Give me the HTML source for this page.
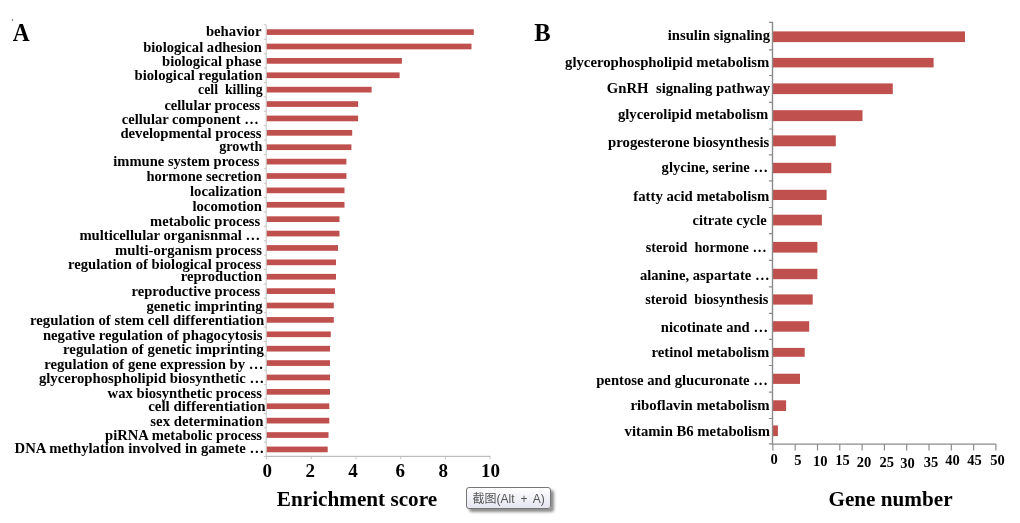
<!DOCTYPE html>
<html><head><meta charset="utf-8"><title>Figure</title>
<style>
html,body{margin:0;padding:0;background:#fff;}
body{width:1020px;height:523px;overflow:hidden;position:relative;}
svg{position:absolute;left:0;top:0;}
text{font-family:"Liberation Serif","Noto Serif CJK SC",serif;font-weight:bold;fill:#000;}
.la{font-size:15px;}
.lb{font-size:14.5px;}
.tip{position:absolute;left:466px;top:487px;width:85px;height:22px;box-sizing:border-box;border:1px solid #767676;border-radius:3px;background:linear-gradient(#ffffff,#e4e5f0);box-shadow:3px 3px 3px rgba(0,0,0,.45);font-family:"Liberation Sans","Noto Sans CJK SC",sans-serif;font-size:12px;line-height:22.6px;color:#555;text-align:left;padding-left:5.5px;word-spacing:2.6px;white-space:nowrap;}
</style></head><body>
<svg width="1020" height="523" viewBox="0 0 1020 523">

<g fill="#c0504d">
<rect x="266.6" y="29.25" width="207.2" height="5.7"/>
<rect x="266.6" y="43.64" width="204.9" height="5.7"/>
<rect x="266.6" y="58.03" width="135.3" height="5.7"/>
<rect x="266.6" y="72.42" width="133.0" height="5.7"/>
<rect x="266.6" y="86.81" width="105.0" height="5.7"/>
<rect x="266.6" y="101.20" width="91.5" height="5.7"/>
<rect x="266.6" y="115.59" width="91.5" height="5.7"/>
<rect x="266.6" y="129.98" width="85.6" height="5.7"/>
<rect x="266.6" y="144.37" width="84.8" height="5.7"/>
<rect x="266.6" y="158.76" width="79.8" height="5.7"/>
<rect x="266.6" y="173.15" width="79.8" height="5.7"/>
<rect x="266.6" y="187.54" width="77.9" height="5.7"/>
<rect x="266.6" y="201.93" width="77.9" height="5.7"/>
<rect x="266.6" y="216.32" width="72.9" height="5.7"/>
<rect x="266.6" y="230.71" width="72.9" height="5.7"/>
<rect x="266.6" y="245.10" width="71.4" height="5.7"/>
<rect x="266.6" y="259.49" width="69.4" height="5.7"/>
<rect x="266.6" y="273.88" width="69.4" height="5.7"/>
<rect x="266.6" y="288.27" width="68.4" height="5.7"/>
<rect x="266.6" y="302.66" width="67.2" height="5.7"/>
<rect x="266.6" y="317.05" width="67.2" height="5.7"/>
<rect x="266.6" y="331.44" width="64.2" height="5.7"/>
<rect x="266.6" y="345.83" width="63.4" height="5.7"/>
<rect x="266.6" y="360.22" width="63.4" height="5.7"/>
<rect x="266.6" y="374.61" width="63.4" height="5.7"/>
<rect x="266.6" y="389.00" width="63.4" height="5.7"/>
<rect x="266.6" y="403.39" width="62.7" height="5.7"/>
<rect x="266.6" y="417.78" width="62.7" height="5.7"/>
<rect x="266.6" y="432.17" width="61.9" height="5.7"/>
<rect x="266.6" y="446.56" width="61.1" height="5.7"/>
</g>
<path d="M266.20000000000005 24.5V456.3" fill="none" stroke="#bdbdbd" stroke-width="0.9"/><path d="M265.8 456.3H490.3" fill="none" stroke="#adadad" stroke-width="1"/>
<path d="M263.8 24.90H266.20000000000005 M263.8 39.29H266.20000000000005 M263.8 53.68H266.20000000000005 M263.8 68.07H266.20000000000005 M263.8 82.46H266.20000000000005 M263.8 96.85H266.20000000000005 M263.8 111.24H266.20000000000005 M263.8 125.63H266.20000000000005 M263.8 140.02H266.20000000000005 M263.8 154.41H266.20000000000005 M263.8 168.80H266.20000000000005 M263.8 183.19H266.20000000000005 M263.8 197.58H266.20000000000005 M263.8 211.97H266.20000000000005 M263.8 226.36H266.20000000000005 M263.8 240.75H266.20000000000005 M263.8 255.14H266.20000000000005 M263.8 269.53H266.20000000000005 M263.8 283.92H266.20000000000005 M263.8 298.31H266.20000000000005 M263.8 312.70H266.20000000000005 M263.8 327.09H266.20000000000005 M263.8 341.48H266.20000000000005 M263.8 355.87H266.20000000000005 M263.8 370.26H266.20000000000005 M263.8 384.65H266.20000000000005 M263.8 399.04H266.20000000000005 M263.8 413.43H266.20000000000005 M263.8 427.82H266.20000000000005 M263.8 442.21H266.20000000000005 M263.8 456.60H266.20000000000005 M266.60 456.3V459.3 M311.30 456.3V459.3 M356.00 456.3V459.3 M400.70 456.3V459.3 M445.40 456.3V459.3 M490.10 456.3V459.3" fill="none" stroke="#c0c0c0" stroke-width="0.9"/>
<text class="la" x="205.9" y="36.2" textLength="55.6" lengthAdjust="spacingAndGlyphs" xml:space="preserve">behavior</text>
<text class="la" x="143.2" y="51.5" textLength="118.8" lengthAdjust="spacingAndGlyphs" xml:space="preserve">biological adhesion</text>
<text class="la" x="162.0" y="66.1" textLength="99.5" lengthAdjust="spacingAndGlyphs" xml:space="preserve">biological phase</text>
<text class="la" x="134.5" y="80.4" textLength="128.1" lengthAdjust="spacingAndGlyphs" xml:space="preserve">biological regulation</text>
<text class="la" x="198.0" y="94.4" textLength="64.6" lengthAdjust="spacingAndGlyphs" xml:space="preserve">cell  killing</text>
<text class="la" x="164.4" y="109.8" textLength="95.8" lengthAdjust="spacingAndGlyphs" xml:space="preserve">cellular process</text>
<text class="la" x="121.8" y="124.0" textLength="137.1" lengthAdjust="spacingAndGlyphs" xml:space="preserve">cellular component …</text>
<text class="la" x="120.4" y="138.3" textLength="141.1" lengthAdjust="spacingAndGlyphs" xml:space="preserve">developmental process</text>
<text class="la" x="219.2" y="151.4" textLength="43.1" lengthAdjust="spacingAndGlyphs" xml:space="preserve">growth</text>
<text class="la" x="113.3" y="166.2" textLength="146.1" lengthAdjust="spacingAndGlyphs" xml:space="preserve">immune system process</text>
<text class="la" x="146.4" y="180.5" textLength="115.1" lengthAdjust="spacingAndGlyphs" xml:space="preserve">hormone secretion</text>
<text class="la" x="190.0" y="196.1" textLength="72.0" lengthAdjust="spacingAndGlyphs" xml:space="preserve">localization</text>
<text class="la" x="192.4" y="211.2" textLength="69.6" lengthAdjust="spacingAndGlyphs" xml:space="preserve">locomotion</text>
<text class="la" x="150.1" y="225.5" textLength="110.1" lengthAdjust="spacingAndGlyphs" xml:space="preserve">metabolic process</text>
<text class="la" x="79.4" y="239.6" textLength="180.8" lengthAdjust="spacingAndGlyphs" xml:space="preserve">multicellular organisnmal …</text>
<text class="la" x="115.1" y="254.6" textLength="146.9" lengthAdjust="spacingAndGlyphs" xml:space="preserve">multi-organism process</text>
<text class="la" x="68.0" y="268.7" textLength="193.5" lengthAdjust="spacingAndGlyphs" xml:space="preserve">regulation of biological process</text>
<text class="la" x="180.8" y="281.2" textLength="81.2" lengthAdjust="spacingAndGlyphs" xml:space="preserve">reproduction</text>
<text class="la" x="131.6" y="296.3" textLength="128.6" lengthAdjust="spacingAndGlyphs" xml:space="preserve">reproductive process</text>
<text class="la" x="146.4" y="310.8" textLength="116.2" lengthAdjust="spacingAndGlyphs" xml:space="preserve">genetic imprinting</text>
<text class="la" x="29.9" y="325.1" textLength="234.3" lengthAdjust="spacingAndGlyphs" xml:space="preserve">regulation of stem cell differentiation</text>
<text class="la" x="42.9" y="339.9" textLength="219.7" lengthAdjust="spacingAndGlyphs" xml:space="preserve">negative regulation of phagocytosis</text>
<text class="la" x="63.0" y="354.0" textLength="200.9" lengthAdjust="spacingAndGlyphs" xml:space="preserve">regulation of genetic imprinting</text>
<text class="la" x="44.2" y="368.5" textLength="219.2" lengthAdjust="spacingAndGlyphs" xml:space="preserve">regulation of gene expression by …</text>
<text class="la" x="38.9" y="383.3" textLength="225.3" lengthAdjust="spacingAndGlyphs" xml:space="preserve">glycerophospholipid biosynthetic …</text>
<text class="la" x="107.6" y="398.3" textLength="154.4" lengthAdjust="spacingAndGlyphs" xml:space="preserve">wax biosynthetic process</text>
<text class="la" x="148.2" y="411.0" textLength="117.3" lengthAdjust="spacingAndGlyphs" xml:space="preserve">cell differentiation</text>
<text class="la" x="150.3" y="425.8" textLength="113.1" lengthAdjust="spacingAndGlyphs" xml:space="preserve">sex determination</text>
<text class="la" x="105.1" y="439.9" textLength="156.9" lengthAdjust="spacingAndGlyphs" xml:space="preserve">piRNA metabolic process</text>
<text class="la" x="14.6" y="453.1" textLength="249.6" lengthAdjust="spacingAndGlyphs" xml:space="preserve">DNA methylation involved in gamete …</text>
<text x="267.2" y="476.8" text-anchor="middle" font-size="18" textLength="9.5" lengthAdjust="spacingAndGlyphs">0</text>
<text x="310.3" y="476.8" text-anchor="middle" font-size="18" textLength="9.5" lengthAdjust="spacingAndGlyphs">2</text>
<text x="353.0" y="476.8" text-anchor="middle" font-size="18" textLength="9.5" lengthAdjust="spacingAndGlyphs">4</text>
<text x="400.3" y="476.8" text-anchor="middle" font-size="18" textLength="9.5" lengthAdjust="spacingAndGlyphs">6</text>
<text x="443.3" y="476.8" text-anchor="middle" font-size="18" textLength="9.5" lengthAdjust="spacingAndGlyphs">8</text>
<text x="490.6" y="476.8" text-anchor="middle" font-size="18" textLength="19.0" lengthAdjust="spacingAndGlyphs">10</text>
<text x="357" y="506" text-anchor="middle" font-size="21.2">Enrichment score</text>
<text x="12.7" y="41" font-size="25.2" textLength="16.9" lengthAdjust="spacingAndGlyphs">A</text><circle cx="12.4" cy="20" r="0.8" fill="#555"/>
<g fill="#c0504d">
<rect x="772.9" y="31.4" width="192.1" height="10.7"/>
<rect x="772.9" y="57.9" width="160.7" height="9.5"/>
<rect x="772.9" y="83.4" width="119.9" height="10.7"/>
<rect x="772.9" y="110.2" width="89.6" height="10.9"/>
<rect x="772.9" y="135.4" width="62.9" height="10.9"/>
<rect x="772.9" y="162.8" width="58.4" height="10.4"/>
<rect x="772.9" y="189.8" width="53.7" height="10.2"/>
<rect x="772.9" y="214.7" width="49.0" height="10.7"/>
<rect x="772.9" y="241.9" width="44.5" height="10.7"/>
<rect x="772.9" y="268.8" width="44.5" height="10.4"/>
<rect x="772.9" y="294.4" width="39.8" height="10.2"/>
<rect x="772.9" y="321.2" width="36.3" height="10.5"/>
<rect x="772.9" y="347.9" width="31.8" height="8.9"/>
<rect x="772.9" y="373.7" width="27.1" height="10.2"/>
<rect x="772.9" y="400.3" width="13.2" height="10.7"/>
<rect x="772.9" y="425.4" width="5.0" height="10.7"/>
</g>
<path d="M772.5 21.8V444.1H996" fill="none" stroke="#8c8c8c" stroke-width="1.4"/>
<path d="M768.9 22.30H772.5 M768.9 49.80H772.5 M768.9 75.50H772.5 M768.9 102.30H772.5 M768.9 129.00H772.5 M768.9 154.80H772.5 M768.9 180.90H772.5 M768.9 207.50H772.5 M768.9 233.60H772.5 M768.9 260.30H772.5 M768.9 286.90H772.5 M768.9 313.30H772.5 M768.9 339.40H772.5 M768.9 365.50H772.5 M768.9 392.10H772.5 M768.9 418.50H772.5 M768.9 443.80H772.5 M772.90 444.1V450.6 M795.20 444.1V450.6 M817.50 444.1V450.6 M839.80 444.1V450.6 M862.10 444.1V450.6 M884.40 444.1V450.6 M906.70 444.1V450.6 M929.00 444.1V450.6 M951.30 444.1V450.6 M973.60 444.1V450.6 M995.90 444.1V450.6" fill="none" stroke="#8c8c8c" stroke-width="1.2"/>
<text class="lb" x="667.7" y="39.6" textLength="102.4" lengthAdjust="spacingAndGlyphs" xml:space="preserve">insulin signaling</text>
<text class="lb" x="565.0" y="66.9" textLength="204.3" lengthAdjust="spacingAndGlyphs" xml:space="preserve">glycerophospholipid metabolism</text>
<text class="lb" x="606.8" y="92.8" textLength="163.3" lengthAdjust="spacingAndGlyphs" xml:space="preserve">GnRH  signaling pathway</text>
<text class="lb" x="617.9" y="118.5" textLength="150.4" lengthAdjust="spacingAndGlyphs" xml:space="preserve">glycerolipid metabolism</text>
<text class="lb" x="608.1" y="146.7" textLength="161.2" lengthAdjust="spacingAndGlyphs" xml:space="preserve">progesterone biosynthesis</text>
<text class="lb" x="661.6" y="172.3" textLength="106.4" lengthAdjust="spacingAndGlyphs" xml:space="preserve">glycine, serine …</text>
<text class="lb" x="633.3" y="200.9" textLength="136.0" lengthAdjust="spacingAndGlyphs" xml:space="preserve">fatty acid metabolism</text>
<text class="lb" x="692.6" y="224.8" textLength="74.1" lengthAdjust="spacingAndGlyphs" xml:space="preserve">citrate cycle</text>
<text class="lb" x="645.7" y="251.9" textLength="121.0" lengthAdjust="spacingAndGlyphs" xml:space="preserve">steroid  hormone …</text>
<text class="lb" x="639.9" y="279.5" textLength="129.7" lengthAdjust="spacingAndGlyphs" xml:space="preserve">alanine, aspartate …</text>
<text class="lb" x="645.2" y="303.5" textLength="123.1" lengthAdjust="spacingAndGlyphs" xml:space="preserve">steroid  biosynthesis</text>
<text class="lb" x="660.8" y="331.8" textLength="107.2" lengthAdjust="spacingAndGlyphs" xml:space="preserve">nicotinate and …</text>
<text class="lb" x="651.6" y="356.8" textLength="117.7" lengthAdjust="spacingAndGlyphs" xml:space="preserve">retinol metabolism</text>
<text class="lb" x="596.2" y="384.7" textLength="171.8" lengthAdjust="spacingAndGlyphs" xml:space="preserve">pentose and glucuronate …</text>
<text class="lb" x="630.4" y="409.8" textLength="139.2" lengthAdjust="spacingAndGlyphs" xml:space="preserve">riboflavin metabolism</text>
<text class="lb" x="624.6" y="435.5" textLength="145.5" lengthAdjust="spacingAndGlyphs" xml:space="preserve">vitamin B6 metabolism</text>
<text x="774.0" y="464.1" text-anchor="middle" font-size="14.5">0</text>
<text x="797.9" y="464.9" text-anchor="middle" font-size="14.5">5</text>
<text x="820.2" y="465.9" text-anchor="middle" font-size="14.5">10</text>
<text x="842.6" y="465.4" text-anchor="middle" font-size="14.5">15</text>
<text x="863.9" y="466.7" text-anchor="middle" font-size="14.5">20</text>
<text x="886.8" y="466.7" text-anchor="middle" font-size="14.5">25</text>
<text x="907.5" y="467.9" text-anchor="middle" font-size="14.5">30</text>
<text x="931.0" y="466.7" text-anchor="middle" font-size="14.5">35</text>
<text x="952.5" y="465.4" text-anchor="middle" font-size="14.5">40</text>
<text x="974.5" y="465.4" text-anchor="middle" font-size="14.5">45</text>
<text x="997.4" y="464.9" text-anchor="middle" font-size="14.5">50</text>
<text x="890.5" y="506.2" text-anchor="middle" font-size="21.2">Gene number</text>
<text x="534.3" y="41" font-size="26" textLength="16.4" lengthAdjust="spacingAndGlyphs">B</text>
</svg>
<div class="tip">截图(Alt + A)</div>
</body></html>
